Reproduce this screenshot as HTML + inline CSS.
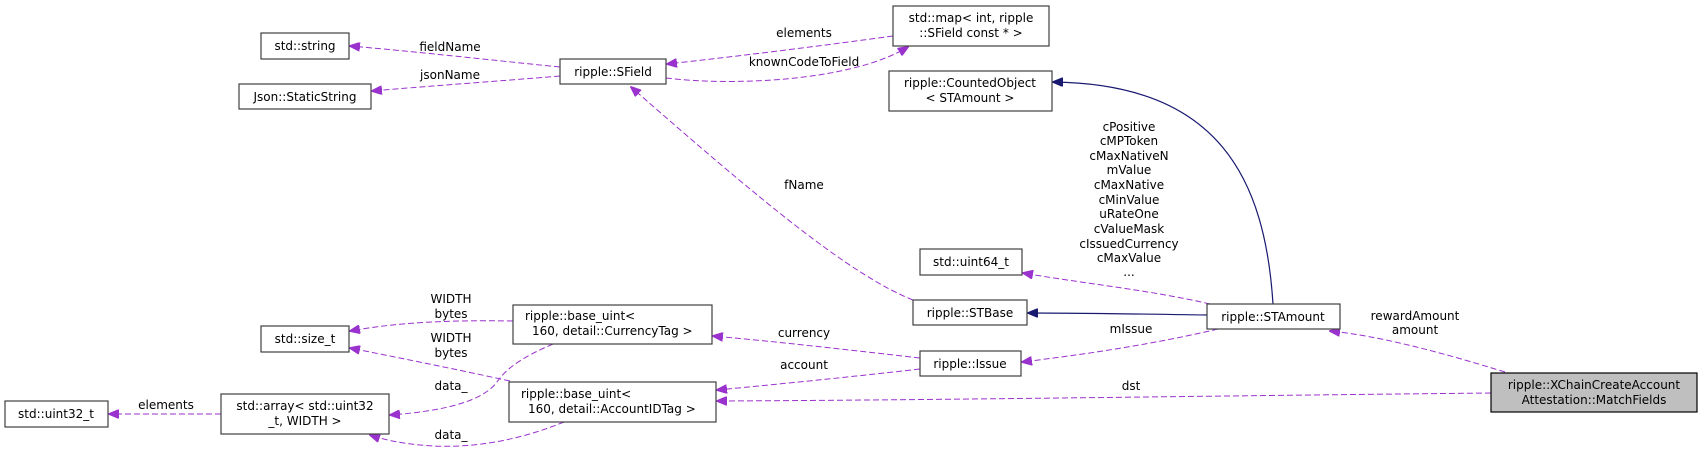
<!DOCTYPE html>
<html><head><meta charset="utf-8"><style>
body{margin:0;background:#fff}
svg{display:block}
text{font-family:"DejaVu Sans","Liberation Sans",sans-serif;font-size:12px;fill:#000}
.b{fill:#fff;stroke:#404040;stroke-width:1.2}
.d{fill:none;stroke:#9a32cd;stroke-dasharray:6,3;stroke-width:1}
.s{fill:none;stroke:#191970;stroke-width:1.2}
</style></head><body>
<svg width="1703" height="452" viewBox="0 0 1703 452" xmlns="http://www.w3.org/2000/svg">
<defs>
<marker id="p" markerWidth="11" markerHeight="9" refX="10" refY="4.5" orient="auto" markerUnits="userSpaceOnUse"><path d="M0,0 L11,4.5 L0,9 z" fill="#9a32cd" stroke="#9a32cd"/></marker>
<marker id="n" markerWidth="11" markerHeight="9" refX="10" refY="4.5" orient="auto" markerUnits="userSpaceOnUse"><path d="M0,0 L11,4.5 L0,9 z" fill="#191970" stroke="#191970"/></marker>
</defs>

<path class="d" marker-end="url(#p)" d="M560,67 C490,60 420,52 350,46"/>
<text x="450" y="51" text-anchor="middle">fieldName</text>
<path class="d" marker-end="url(#p)" d="M560,76 C500,81 430,86 372,91"/>
<text x="450" y="79" text-anchor="middle">jsonName</text>
<path class="d" marker-end="url(#p)" d="M893,36 C820,46 740,56 667,64"/>
<text x="804" y="37" text-anchor="middle">elements</text>
<path class="d" marker-end="url(#p)" d="M666,78 C730,86 850,82 908,47"/>
<text x="804" y="66" text-anchor="middle">knownCodeToField</text>
<path class="d" marker-end="url(#p)" d="M913,300 C850,275 760,200 631,87"/>
<text x="804" y="189" text-anchor="middle">fName</text>
<path class="s" marker-end="url(#n)" d="M1273,304 C1265,180 1220,84 1053,82"/>
<path class="d" marker-end="url(#p)" d="M1210,304 C1150,290 1080,283 1023,273"/>
<g text-anchor="middle">
<text x="1129" y="131">cPositive</text><text x="1129" y="145">cMPToken</text><text x="1129" y="160">cMaxNativeN</text><text x="1129" y="174">mValue</text><text x="1129" y="189">cMaxNative</text><text x="1129" y="204">cMinValue</text><text x="1129" y="218">uRateOne</text><text x="1129" y="233">cValueMask</text><text x="1129" y="248">cIssuedCurrency</text><text x="1129" y="262">cMaxValue</text><text x="1129" y="276">...</text>
</g>
<path class="s" marker-end="url(#n)" d="M1207,315 C1140,314 1080,313 1028,313"/>
<path class="d" marker-end="url(#p)" d="M1218,329 C1150,345 1080,355 1022,362"/>
<text x="1131" y="333" text-anchor="middle">mIssue</text>
<path class="d" marker-end="url(#p)" d="M920,358 C850,350 780,342 713,336"/>
<text x="804" y="337" text-anchor="middle">currency</text>
<path class="d" marker-end="url(#p)" d="M920,369 C850,377 780,384 717,390"/>
<text x="804" y="369" text-anchor="middle">account</text>
<path class="d" marker-end="url(#p)" d="M1505,372 C1440,352 1380,336 1330,331"/>
<text x="1415" y="320" text-anchor="middle">rewardAmount</text>
<text x="1415" y="334" text-anchor="middle">amount</text>
<path class="d" marker-end="url(#p)" d="M1491,393 C1200,396 950,400 717,401"/>
<text x="1131" y="390" text-anchor="middle">dst</text>
<path class="d" marker-end="url(#p)" d="M513,321 C450,320 400,322 350,331"/>
<text x="451" y="303" text-anchor="middle">WIDTH</text><text x="451" y="318" text-anchor="middle">bytes</text>
<path class="d" marker-end="url(#p)" d="M510,381 C450,368 400,358 350,348"/>
<text x="451" y="342" text-anchor="middle">WIDTH</text><text x="451" y="357" text-anchor="middle">bytes</text>
<path class="d" marker-end="url(#p)" d="M553,344 C520,358 505,370 497,382 C480,405 430,412 390,415"/>
<text x="451" y="390" text-anchor="middle">data_</text>
<path class="d" marker-end="url(#p)" d="M564,422 C520,440 470,450 420,445 C400,443 385,440 370,435"/>
<text x="451" y="439" text-anchor="middle">data_</text>
<path class="d" marker-end="url(#p)" d="M221,414 C180,414 140,414 109,414"/>
<text x="166" y="409" text-anchor="middle">elements</text>

<rect class="b" x="261" y="33" width="88" height="26"/><text x="305" y="50" text-anchor="middle">std::string</text>
<rect class="b" x="239" y="84" width="132" height="25"/><text x="305" y="101" text-anchor="middle">Json::StaticString</text>
<rect class="b" x="560" y="59" width="106" height="25"/><text x="613" y="76" text-anchor="middle">ripple::SField</text>
<rect class="b" x="893" y="6" width="156" height="40"/><text x="971" y="22" text-anchor="middle">std::map&lt; int, ripple</text><text x="971" y="37" text-anchor="middle">::SField const * &gt;</text>
<rect class="b" x="889" y="71" width="163" height="40"/><text x="970" y="87" text-anchor="middle">ripple::CountedObject</text><text x="970" y="102" text-anchor="middle">&lt; STAmount &gt;</text>
<rect class="b" x="920" y="249" width="102" height="26"/><text x="971" y="266" text-anchor="middle">std::uint64_t</text>
<rect class="b" x="913" y="300" width="114" height="25"/><text x="970" y="317" text-anchor="middle">ripple::STBase</text>
<rect class="b" x="1207" y="304" width="133" height="25"/><text x="1273" y="321" text-anchor="middle">ripple::STAmount</text>
<rect class="b" x="920" y="351" width="101" height="25"/><text x="970" y="368" text-anchor="middle">ripple::Issue</text>
<rect class="b" x="513" y="305" width="199" height="39"/><text x="525" y="320">ripple::base_uint&lt;</text><text x="532" y="335">160, detail::CurrencyTag &gt;</text>
<rect class="b" x="509" y="382" width="207" height="40"/><text x="521" y="398">ripple::base_uint&lt;</text><text x="528" y="413">160, detail::AccountIDTag &gt;</text>
<rect class="b" x="261" y="326" width="88" height="26"/><text x="305" y="343" text-anchor="middle">std::size_t</text>
<rect class="b" x="221" y="394" width="168" height="40"/><text x="305" y="410" text-anchor="middle">std::array&lt; std::uint32</text><text x="305" y="425" text-anchor="middle">_t, WIDTH &gt;</text>
<rect class="b" x="5" y="401" width="103" height="26"/><text x="56" y="418" text-anchor="middle">std::uint32_t</text>
<rect x="1491" y="373" width="206" height="39" fill="#bfbfbf" stroke="#000" stroke-width="1.2"/><text x="1594" y="389" text-anchor="middle">ripple::XChainCreateAccount</text><text x="1594" y="404" text-anchor="middle">Attestation::MatchFields</text>
</svg>
</body></html>
